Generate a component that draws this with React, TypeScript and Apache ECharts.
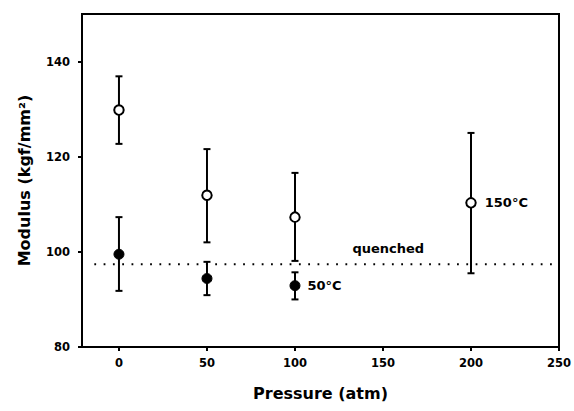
import React, { useEffect, useRef } from "react";
import * as echarts from "echarts";

const pressure150 = [0, 50, 100, 200];
const mean150 = [129.8, 111.9, 107.3, 110.3];
const low150 = [122.7, 102.0, 98.1, 95.5];
const high150 = [136.9, 121.6, 116.6, 125.0];

const pressure50 = [0, 50, 100];
const mean50 = [99.5, 94.4, 92.9];
const low50 = [91.8, 90.9, 90.0];
const high50 = [107.3, 97.9, 95.7];

const quenchedValue = 97.4;
const quenchedRange = [-14, 250];
const quenchedLabelX = 153;

const xTicks = [0, 50, 100, 150, 200, 250];
const yTicks = [80, 100, 120, 140];

const FONT = "'DejaVu Sans', Arial, sans-serif";
const INK = "#000";

export default function App() {
  const ref = useRef<HTMLDivElement>(null);
  useEffect(() => {
    if (!ref.current) return;
    const chart = echarts.init(ref.current, null, { renderer: "svg" });

    const errRender = (params: any, api: any) => {
      const x = api.value(0);
      const lo = api.coord([x, api.value(1)]);
      const hi = api.coord([x, api.value(2)]);
      const w = 3.5;
      const style = { stroke: INK, lineWidth: 2, fill: "none" };
      return {
        type: "group",
        children: [
          { type: "line", shape: { x1: lo[0], y1: lo[1], x2: hi[0], y2: hi[1] }, style },
          { type: "line", shape: { x1: lo[0] - w, y1: lo[1], x2: lo[0] + w, y2: lo[1] }, style },
          { type: "line", shape: { x1: hi[0] - w, y1: hi[1], x2: hi[0] + w, y2: hi[1] }, style },
        ],
      };
    };

    const tickStyle = {
      fontFamily: FONT,
      fontWeight: "bold" as const,
      fontSize: 11.5,
      color: INK,
    };
    const annoStyle = {
      fontFamily: FONT,
      fontWeight: "bold" as const,
      fontSize: 13,
      color: INK,
      opacity: 1,
    };
    const titleStyle = {
      fontFamily: FONT,
      fontWeight: "bold" as const,
      fontSize: 16,
      color: INK,
    };

    chart.setOption({
      animation: false,
      backgroundColor: "#fff",
      grid: {
        left: 82,
        right: 15,
        top: 14,
        bottom: 64,
        show: true,
        borderColor: INK,
        borderWidth: 2,
        backgroundColor: "transparent",
      },
      xAxis: {
        type: "value",
        min: -21,
        max: 250,
        name: "Pressure (atm)",
        nameLocation: "middle",
        nameGap: 38,
        nameTextStyle: titleStyle,
        axisLine: { show: true, onZero: false, lineStyle: { color: INK, width: 2 } },
        axisTick: { show: true, length: 4, customValues: xTicks, lineStyle: { color: INK, width: 2 } },
        axisLabel: { customValues: xTicks, margin: 10, ...tickStyle },
        splitLine: { show: false },
      },
      yAxis: {
        type: "value",
        min: 80,
        max: 150,
        name: "Modulus (kgf/mm²)",
        nameLocation: "middle",
        nameGap: 50,
        nameTextStyle: titleStyle,
        axisLine: { show: true, onZero: false, lineStyle: { color: INK, width: 2 } },
        axisTick: { show: true, length: 4, customValues: yTicks, lineStyle: { color: INK, width: 2 } },
        axisLabel: { customValues: yTicks, margin: 12, ...tickStyle },
        splitLine: { show: false },
      },
      series: [
        {
          type: "line",
          data: quenchedRange.map((x) => [x, quenchedValue]),
          symbol: "none",
          lineStyle: { color: INK, width: 2, type: [1.8, 7.5] },
          silent: true,
          z: 1,
        },
        {
          type: "scatter",
          data: [[quenchedLabelX, quenchedValue]],
          symbolSize: 0,
          itemStyle: { opacity: 1 },
          label: {
            show: true,
            position: "top",
            distance: 9,
            formatter: "quenched",
            ...annoStyle,
          },
          z: 1,
        },
        {
          type: "custom",
          renderItem: errRender,
          data: pressure150.map((p, i) => [p, low150[i], high150[i]]),
          z: 2,
        },
        {
          type: "custom",
          renderItem: errRender,
          data: pressure50.map((p, i) => [p, low50[i], high50[i]]),
          z: 2,
        },
        {
          type: "scatter",
          name: "150°C",
          data: pressure150.map((p, i) => ({
            value: [p, mean150[i]],
            label:
              i === pressure150.length - 1
                ? { show: true, position: "right", distance: 8, formatter: "150°C", ...annoStyle }
                : { show: false },
          })),
          symbol: "circle",
          symbolSize: 9.5,
          itemStyle: { color: "#fff", borderColor: INK, borderWidth: 2, opacity: 1 },
          z: 3,
        },
        {
          type: "scatter",
          name: "50°C",
          data: pressure50.map((p, i) => ({
            value: [p, mean50[i]],
            label:
              i === pressure50.length - 1
                ? { show: true, position: "right", distance: 7, formatter: "50°C", ...annoStyle }
                : { show: false },
          })),
          symbol: "circle",
          symbolSize: 10,
          itemStyle: { color: INK, borderColor: INK, borderWidth: 1, opacity: 1 },
          z: 3,
        },
      ],
    });
    return () => chart.dispose();
  }, []);
  return (
    <div
      ref={ref}
      style={{ position: "fixed", left: 0, top: 0, width: 574, height: 411 }}
    />
  );
}
